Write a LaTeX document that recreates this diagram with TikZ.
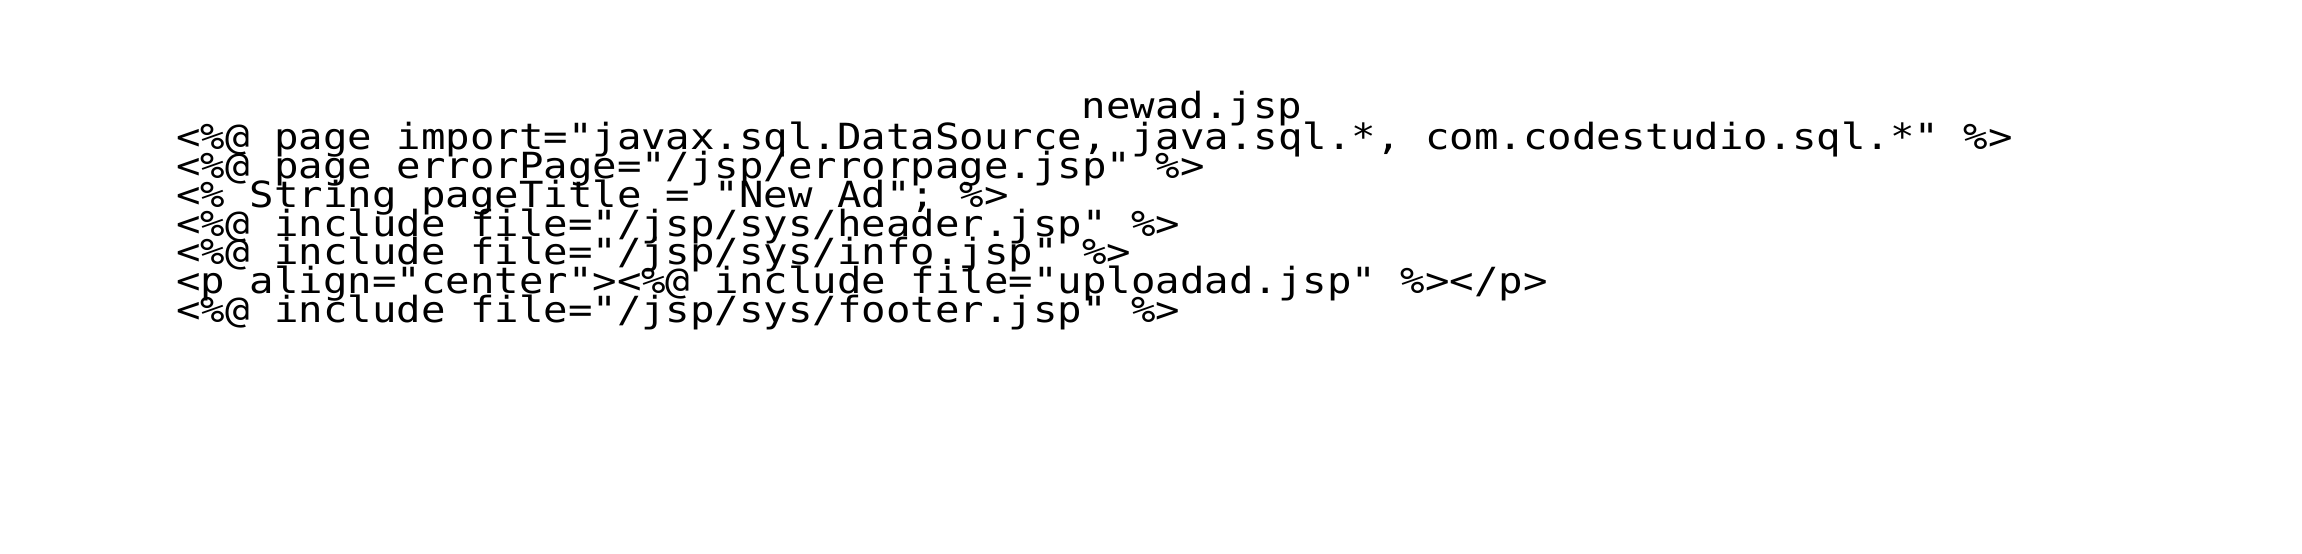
\documentclass[tikz,border=0pt]{standalone}
\usepackage{fontspec}
\setmonofont{DejaVu Sans Mono}[FakeStretch=1.13]
\usepackage{tikz}

\begin{document}
\begin{tikzpicture}[x=1pt,y=1pt,
  code/.style={anchor=base west,inner sep=0pt,font=\fontsize{36}{29}\ttfamily}]
  \useasboundingbox (0,0) rectangle (2302,554);
  \node[code,anchor=base] (title) at (1192,435) {newad.jsp};
  \node[code] (l1) at (176,404) {<\%@ page import="javax.sql.DataSource, java.sql.*, com.codestudio.sql.*" \%>};
  \node[code] (l2) at (176,375.3) {<\%@ page errorPage="/jsp/errorpage.jsp" \%>};
  \node[code] (l3) at (176,346.6) {<\% String pageTitle = "New Ad"; \%>};
  \node[code] (l4) at (176,317.9) {<\%@ include file="/jsp/sys/header.jsp" \%>};
  \node[code] (l5) at (176,289.2) {<\%@ include file="/jsp/sys/info.jsp" \%>};
  \node[code] (l6) at (176,260.5) {<p align="center"><\%@ include file="uploadad.jsp" \%></p>};
  \node[code] (l7) at (176,231.8) {<\%@ include file="/jsp/sys/footer.jsp" \%>};
\end{tikzpicture}
\end{document}
